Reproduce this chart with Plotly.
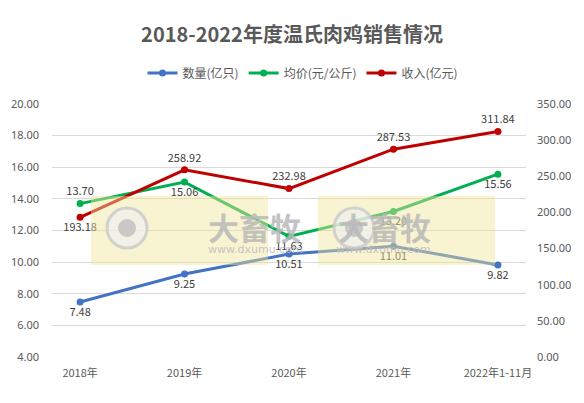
import plotly.graph_objects as go

years = ["2018年", "2019年", "2020年", "2021年", "2022年1-11月"]
qty = [7.48, 9.25, 10.51, 11.01, 9.82]          # 数量(亿只)
price = [13.70, 15.06, 11.63, 13.20, 15.56]     # 均价(元/公斤)
income = [193.18, 258.92, 232.98, 287.53, 311.84]  # 收入(亿元)

qty_pos = ["bottom center"] * 5
price_pos = ["top center", "bottom center", "bottom center", "bottom center", "bottom center"]
income_pos = ["bottom center", "top center", "top center", "top center", "top center"]

txt = dict(family="Noto Sans CJK SC", size=11, color="#404040")

# page pixels of the plot area; the page body adds an 8px margin round the figure
OFF = 8
W, H = 584 - 2 * OFF, 403 - 2 * OFF
PL, PR, PT, PB = 52, 526, 104, 357
px_x = lambda v: (v - PL) / (PR - PL)
px_y = lambda v: (PB - v) / (PB - PT)

fig = go.Figure()
fig.add_trace(go.Scatter(x=years, y=qty, name="数量(亿只)", mode="lines+markers+text", cliponaxis=False,
                         line=dict(color="#4472C4", width=3), marker=dict(size=7),
                         text=[f"{v:.2f}" for v in qty], textposition=qty_pos, textfont=txt))
fig.add_trace(go.Scatter(x=years, y=price, name="均价(元/公斤)", mode="lines+markers+text", cliponaxis=False,
                         line=dict(color="#00B050", width=3), marker=dict(size=7),
                         text=[f"{v:.2f}" for v in price], textposition=price_pos, textfont=txt))
fig.add_trace(go.Scatter(x=years, y=income, name="收入(亿元)", mode="lines+markers+text", yaxis="y2",
                         cliponaxis=False,
                         line=dict(color="#C00000", width=3), marker=dict(size=7),
                         text=[f"{v:.2f}" for v in income], textposition=income_pos, textfont=txt))

# watermark boxes
for x0, x1 in [(91, 268), (318, 495)]:
    fig.add_shape(type="rect", xref="paper", yref="paper", layer="above",
                  x0=px_x(x0), x1=px_x(x1), y0=px_y(265), y1=px_y(196),
                  fillcolor="rgba(240,228,150,0.45)", line_width=0)
    cx, cy = x0 + 36, 228
    fig.add_shape(type="circle", xref="paper", yref="paper", layer="above",
                  x0=px_x(cx - 20), x1=px_x(cx + 20), y0=px_y(cy + 20), y1=px_y(cy - 20),
                  fillcolor="rgba(240,240,240,0.7)", line=dict(color="rgba(205,205,205,0.9)", width=3))
    fig.add_shape(type="circle", xref="paper", yref="paper", layer="above",
                  x0=px_x(cx - 9), x1=px_x(cx + 9), y0=px_y(cy + 9), y1=px_y(cy - 9),
                  fillcolor="rgba(195,195,195,0.9)", line_width=0)
    fig.add_annotation(xref="paper", yref="paper", x=px_x(x0 + 115), y=px_y(226),
                       text="<b>大畜牧</b>", showarrow=False,
                       font=dict(family="Noto Sans CJK SC", size=31, color="rgba(185,185,185,0.85)"))
    fig.add_annotation(xref="paper", yref="paper", x=px_x(x0 + 115), y=px_y(249),
                       text="www.dxumu.com", showarrow=False,
                       font=dict(family="DejaVu Sans", size=11, color="rgba(190,190,190,0.9)"))

fig.update_layout(
    width=W, height=H, autosize=False,
    margin=dict(l=PL - OFF, r=W - (PR - OFF), t=PT - OFF, b=H - (PB - OFF), autoexpand=False),
    paper_bgcolor="white", plot_bgcolor="white",
    title=dict(text="<b>2018-2022年度温氏肉鸡销售情况</b>", x=(292 - OFF) / W, xref="container",
               xanchor="center", y=1 - (35 - OFF) / H, yref="container", yanchor="middle",
               font=dict(family="Noto Sans CJK SC", size=20, color="#595959")),
    legend=dict(orientation="h", x=(303 - OFF) / W, xanchor="center", xref="container",
                y=1 - (73 - OFF) / H, yref="container", yanchor="middle",
                font=dict(family="Noto Sans CJK SC", size=12, color="#595959")),
    showlegend=True,
    xaxis=dict(showgrid=False, showline=False, ticks="", tickangle=0, ticklabelstandoff=8,
               tickfont=dict(family="Noto Sans CJK SC", size=11, color="#595959")),
    yaxis=dict(range=[4, 20], dtick=2, tickformat=".2f", showgrid=True, gridcolor="#D9D9D9",
               zeroline=False, ticklabelstandoff=12,
               tickfont=dict(family="Noto Sans", size=11, color="#595959")),
    yaxis2=dict(range=[0, 350], dtick=50, tickformat=".2f", overlaying="y", side="right",
                showgrid=False, zeroline=False, ticklabelstandoff=10,
                tickfont=dict(family="Noto Sans", size=11, color="#595959")),
)

fig.write_html("out.html")
